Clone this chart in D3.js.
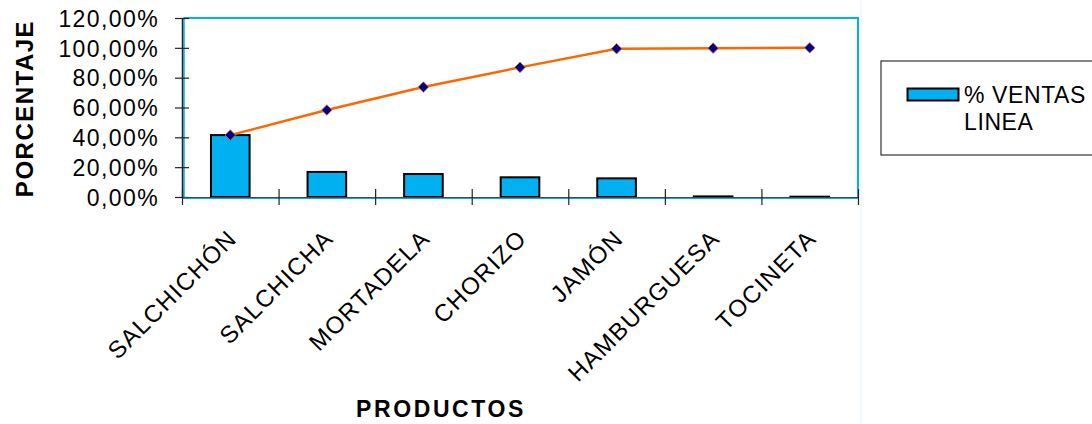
<!DOCTYPE html>
<html><head><meta charset="utf-8">
<script src="https://cdn.jsdelivr.net/npm/d3@7"></script>
<style>
html,body{margin:0;padding:0;background:#fff;}
svg{display:block;font-family:"Liberation Sans",Arial,sans-serif;}
</style></head>
<body><svg id="c" width="1092" height="424"></svg>
<script>
const categories = ["SALCHICHÓN","SALCHICHA","MORTADELA","CHORIZO","JAMÓN","HAMBURGUESA","TOCINETA"];
const ventas = [0.415, 0.168, 0.154, 0.132, 0.125, 0.004, 0.002];
const acumulado = [0.415, 0.583, 0.737, 0.869, 0.994, 0.998, 1.0];
const yTicks = [0, 0.2, 0.4, 0.6, 0.8, 1.0, 1.2];
const seriesName = ["% VENTAS", "LINEA"];
const yTitle = "PORCENTAJE";
const xTitle = "PRODUCTOS";

const svg = d3.select("#c");
const L = 182, R = 858, T = 18, B = 197;
const x = d3.scaleBand().domain(categories).range([L, R]).paddingInner(0).paddingOuter(0);
const y = d3.scaleLinear().domain([0, 1.2]).range([B, T]);
const loc = d3.formatLocale({decimal: ",", thousands: ".", grouping: [3], currency: ["", ""], percent: "%"});
const fmt = loc.format(".2%");
const cyan = "#00B0F0";

// faint chart-area edge
svg.append("line").attr("x1", 861).attr("x2", 861).attr("y1", 0).attr("y2", 424)
  .attr("stroke", "#F0FAFE").attr("stroke-width", 2);

// plot border (cyan)
svg.append("path").attr("d", `M${L+1.5},${T} H${R} V${B+0.5}`).attr("fill", "none")
  .attr("stroke", cyan).attr("stroke-width", 2);
svg.append("line").attr("x1", L+2).attr("x2", L+2).attr("y1", T).attr("y2", B)
  .attr("stroke", cyan).attr("stroke-width", 1.5);
svg.append("line").attr("x1", L).attr("x2", R).attr("y1", B+1).attr("y2", B+1)
  .attr("stroke", cyan).attr("stroke-width", 2);

// bars
const bw = x.bandwidth() * 0.4;
svg.append("g").selectAll("rect").data(categories).join("rect")
  .attr("x", (d) => x(d) + x.bandwidth()/2 - bw/2)
  .attr("y", (d, i) => y(ventas[i]))
  .attr("width", bw)
  .attr("height", (d, i) => B - y(ventas[i]))
  .attr("fill", cyan).attr("stroke", "#000").attr("stroke-width", 2);

// y axis
const yAxis = svg.append("g").attr("transform", `translate(${L},0)`)
  .call(d3.axisLeft(y).tickValues(yTicks).tickFormat(fmt).tickSize(7).tickSizeOuter(0));
yAxis.select(".domain").attr("stroke", "#222").attr("stroke-width", 1.5);
yAxis.selectAll(".tick line").attr("x2", -7).attr("x1", 7).attr("stroke", "#222").attr("stroke-width", 1.2);
yAxis.selectAll(".tick text").attr("x", -23).attr("dy", "0.36em")
  .attr("font-size", 23).attr("letter-spacing", 1.4).attr("fill", "#000")
  .attr("font-family", "Liberation Sans, Arial, sans-serif");

// x axis
const xb = d3.scaleLinear().domain([0, categories.length]).range([L, R]);
const xAxis = svg.append("g").attr("transform", `translate(0,${B})`)
  .call(d3.axisBottom(xb).tickValues(d3.range(categories.length + 1)).tickFormat("").tickSize(8).tickSizeOuter(0));
xAxis.select(".domain").attr("stroke", "#444").attr("stroke-width", 1);
xAxis.selectAll(".tick line").attr("y1", -8).attr("y2", 8).attr("stroke", "#222").attr("stroke-width", 1.2);

// category labels
svg.append("g").selectAll("text").data(categories).join("text")
  .attr("transform", (d) => `translate(${x(d) + x.bandwidth()/2 + 8},${B + 43}) rotate(-45)`)
  .attr("text-anchor", "end").attr("font-size", 24).attr("letter-spacing", 1.3)
  .attr("fill", "#000").text((d) => d);

// cumulative line
const cx = (d) => x(d) + x.bandwidth()/2;
svg.append("path").datum(categories)
  .attr("d", d3.line().x(cx).y((d, i) => y(acumulado[i])))
  .attr("fill", "none").attr("stroke", "#FF6600").attr("stroke-width", 2.5);
svg.append("g").selectAll("path").data(categories).join("path")
  .attr("transform", (d, i) => `translate(${cx(d)},${y(acumulado[i])}) rotate(45)`)
  .attr("d", d3.symbol().type(d3.symbolSquare).size(56))
  .attr("fill", "#000080").attr("stroke", "#E87040").attr("stroke-width", 0.8);

// axis titles
svg.append("text").attr("transform", `translate(33,${(T + B)/2 + 1}) rotate(-90)`)
  .attr("text-anchor", "middle").attr("font-size", 24).attr("font-weight", "bold")
  .attr("letter-spacing", 1.5).text(yTitle);
svg.append("text").attr("x", 441).attr("y", 417)
  .attr("text-anchor", "middle").attr("font-size", 23).attr("font-weight", "bold")
  .attr("letter-spacing", 2.6).text(xTitle);

// legend
svg.append("rect").attr("x", 881).attr("y", 61).attr("width", 230).attr("height", 94)
  .attr("fill", "#fff").attr("stroke", "#333").attr("stroke-width", 1.2);
svg.append("rect").attr("x", 907.5).attr("y", 88.5).attr("width", 51).attr("height", 12)
  .attr("fill", cyan).attr("stroke", "#000").attr("stroke-width", 2);
const lt = svg.append("text").attr("font-size", 23).attr("letter-spacing", 0.6).attr("fill", "#000");
lt.append("tspan").attr("x", 964).attr("y", 103).text(seriesName[0]);
lt.append("tspan").attr("x", 964).attr("y", 130).text(seriesName[1]);
</script>
</body></html>
